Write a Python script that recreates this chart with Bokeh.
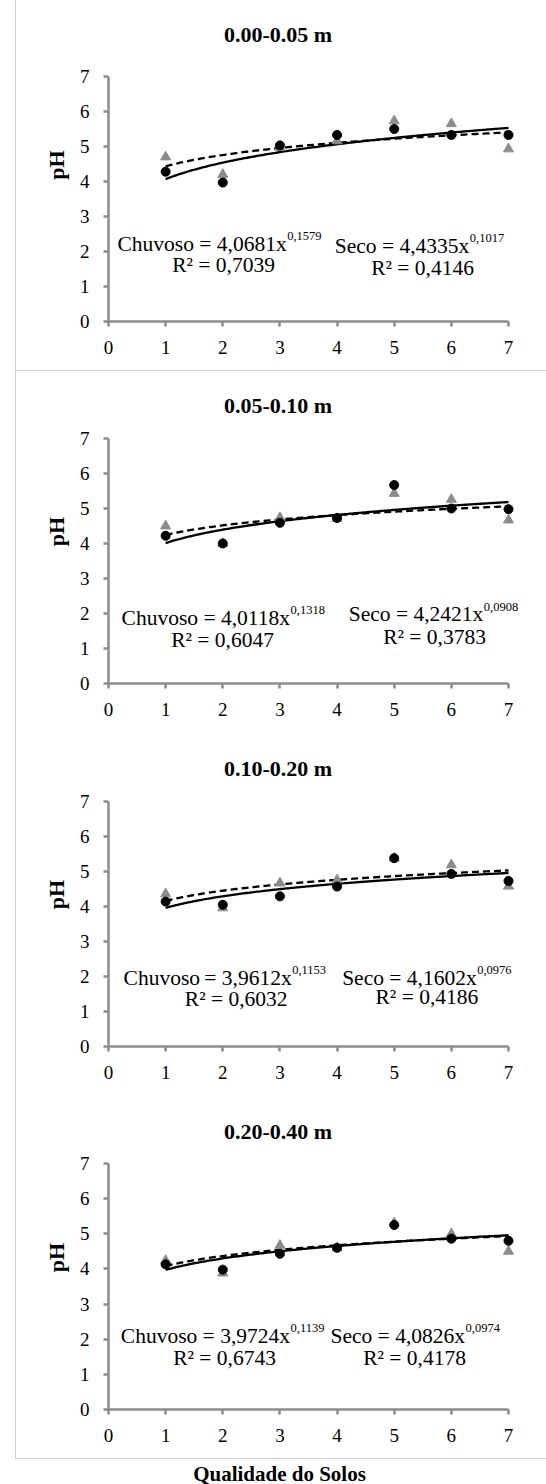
import numpy as np
from bokeh.plotting import figure
from bokeh.models import Label, Range1d, FixedTicker
from bokeh.layouts import column
from bokeh.embed import file_html
from bokeh.resources import INLINE

# ---------------- data ----------------
qualidade = [1, 2, 3, 4, 5, 6, 7]
x_ticks = [0, 1, 2, 3, 4, 5, 6, 7]
y_ticks = [0, 1, 2, 3, 4, 5, 6, 7]
titles = ["0.00-0.05 m", "0.05-0.10 m", "0.10-0.20 m", "0.20-0.40 m"]

chuvoso_0_05 = [4.28, 3.97, 5.03, 5.33, 5.50, 5.33, 5.33]
seco_0_05 = [4.70, 4.20, 4.97, 5.16, 5.73, 5.65, 4.93]
chuvoso_05_10 = [4.22, 4.00, 4.59, 4.73, 5.67, 5.00, 4.98]
seco_05_10 = [4.50, 4.00, 4.74, 4.71, 5.43, 5.26, 4.67]
chuvoso_10_20 = [4.14, 4.05, 4.29, 4.57, 5.38, 4.93, 4.73]
seco_10_20 = [4.36, 3.96, 4.67, 4.76, 5.38, 5.19, 4.58]
chuvoso_20_40 = [4.13, 3.98, 4.43, 4.60, 5.25, 4.86, 4.80]
seco_20_40 = [4.24, 3.88, 4.67, 4.60, 5.31, 5.00, 4.50]

# power trendline coefficients printed on the chart (y = a x^b)
chuvoso_a = [4.0681, 4.0118, 3.9612, 3.9724]
chuvoso_b = [0.1579, 0.1318, 0.1153, 0.1139]
seco_a = [4.4335, 4.2421, 4.1602, 4.0826]
seco_b = [0.1017, 0.0908, 0.0976, 0.0974]
chuvoso_r2 = ["0,7039", "0,6047", "0,6032", "0,6743"]
seco_r2 = ["0,4146", "0,3783", "0,4186", "0,4178"]

chuvoso_all = [chuvoso_0_05, chuvoso_05_10, chuvoso_10_20, chuvoso_20_40]
seco_all = [seco_0_05, seco_05_10, seco_10_20, seco_20_40]

# ---------------- layout (pixels) ----------------
FONT = "Liberation Serif"
W = 546
FL = 108          # frame left (x = 0)
X7 = 508          # pixel of x = 7
FR_EDGE = 518     # frame extended a little to the right so labels are not clipped
TOP_EDGE = 8      # frame extended upward to hold the panel title
heights = [371, 363, 363, 362]
axis_tops = [76, 67, 67, 66]     # pixel of y = 7 within each panel
axis_hs = [245, 245, 245, 246]   # pixels from y = 0 to y = 7
LC = "#d2d2d2"
GL = f"linear-gradient({LC},{LC})"

def box_bg(h, bottom_line):
    layers = [f"{GL} 15px 0px / 1px {h}px no-repeat"]
    if bottom_line is not None:
        layers.append(f"{GL} 15px {bottom_line}px / 531px 1px no-repeat")
    return {"background": ", ".join(layers)}

bottom_lines = [370, None, None, 361]
# positions (x from page left, y from panel top):
# chuvoso sup-start x, chuvoso baseline, sup baseline, r2 x, r2 baseline,
# seco sup-start x, seco baseline, sup baseline, r2 x, r2 baseline
text_pos = [
    (286.7, 243.0, 235.5, 171.7, 264.0, 469.3, 245.0, 237.5, 370.7, 267.0),
    (290.0, 246.0, 238.5, 170.7, 268.0, 483.3, 242.7, 235.5, 382.7, 265.0),
    (291.7, 243.0, 235.5, 184.3, 264.7, 476.7, 243.0, 235.5, 375.0, 262.0),
    (290.0, 238.3, 230.8, 172.7, 260.0, 465.0, 238.0, 230.5, 362.7, 260.0),
]
title_x, title_base = 277.5, 34.0
c_eq_sep = [" = ", " = ", "\u2009= ", " = "]
s_eq_sep = [" = ", " = ", " = ", " = "]
EQ_SIZE = "21.5px"
SUP_SIZE = "12.5px"

def fmt(v):
    return f"{v:.4f}".replace(".", ",")

def add_text(p, fbot, x, ytop, txt, size, bold=False, align="left"):
    # screen units are relative to the frame's bottom-left corner
    p.add_layout(Label(x=x - FL, y=fbot - ytop, x_units="screen", y_units="screen",
                       text=txt, text_font=FONT, text_font_size=size,
                       text_font_style="bold" if bold else "normal",
                       text_color="black", text_align=align,
                       text_baseline="alphabetic"))

AX = "#8c8c8c"
panels = []
for i in range(4):
    H = heights[i]
    fbot = axis_tops[i] + axis_hs[i]
    ppu_y = axis_hs[i] / 7.0
    ppu_x = (X7 - FL) / 7.0
    y_end = 7 + (axis_tops[i] - TOP_EDGE) / ppu_y
    x_end = 7 + (FR_EDGE - X7) / ppu_x
    p = figure(width=W, height=H, x_range=Range1d(0, x_end), y_range=Range1d(0, y_end),
               output_backend="svg", toolbar_location=None,
               min_border_left=FL, min_border_right=W - FR_EDGE,
               min_border_top=TOP_EDGE,
               min_border_bottom=H - fbot,
               styles=box_bg(H if bottom_lines[i] is None else bottom_lines[i] + 1,
                             bottom_lines[i]))
    p.border_fill_color = None
    p.outline_line_color = None
    p.grid.visible = False
    p.xaxis.bounds = (0, 7)
    p.yaxis.bounds = (0, 7)
    for ax in (p.xaxis[0], p.yaxis[0]):
        ax.axis_line_color = AX
        ax.axis_line_width = 2.5
        ax.major_tick_line_color = AX
        ax.major_tick_line_width = 2.5
        ax.major_tick_in = 0
        ax.major_tick_out = 5
        ax.minor_tick_line_color = None
        ax.major_label_text_font = FONT
        ax.major_label_text_font_size = "19px"
        ax.major_label_text_color = "black"
    p.xaxis.ticker = FixedTicker(ticks=x_ticks)
    p.yaxis.ticker = FixedTicker(ticks=y_ticks)
    p.xaxis.major_label_standoff = 14
    p.yaxis.major_label_standoff = 14
    p.yaxis.axis_label = "pH"
    p.yaxis.axis_label_text_font = FONT
    p.yaxis.axis_label_text_font_size = "22px"
    p.yaxis.axis_label_text_font_style = "bold"
    p.yaxis.axis_label_text_color = "black"
    p.yaxis.axis_label_standoff = 8

    xs = np.linspace(1, 7, 200)
    p.line(xs, seco_a[i] * xs ** seco_b[i], line_color="black", line_width=2.3,
           line_dash="7 4")
    p.line(xs, chuvoso_a[i] * xs ** chuvoso_b[i], line_color="black", line_width=2.3)
    p.scatter(qualidade, seco_all[i], marker="triangle", size=10,
              fill_color="#8c8c8c", line_color="#8c8c8c")
    p.scatter(qualidade, chuvoso_all[i], marker="circle", size=9,
              fill_color="black", line_color="black")

    add_text(p, fbot, title_x, title_base, titles[i], "22px", bold=True, align="center")
    t = text_pos[i]
    add_text(p, fbot, t[0] - 0.5, t[1], "Chuvoso" + c_eq_sep[i] + fmt(chuvoso_a[i]) + "x",
             EQ_SIZE, align="right")
    add_text(p, fbot, t[0], t[2], fmt(chuvoso_b[i]), SUP_SIZE)
    add_text(p, fbot, t[3], t[4], "R\u00b2 = " + chuvoso_r2[i], EQ_SIZE)
    add_text(p, fbot, t[5] - 0.5, t[6], "Seco" + s_eq_sep[i] + fmt(seco_a[i]) + "x",
             EQ_SIZE, align="right")
    add_text(p, fbot, t[5], t[7], fmt(seco_b[i]), SUP_SIZE)
    add_text(p, fbot, t[8], t[9], "R\u00b2 = " + seco_r2[i], EQ_SIZE)
    panels.append(p)

# x-axis title below the last chart box
LH = 25
lab = figure(width=W, height=LH, x_range=Range1d(0, 1), y_range=Range1d(0, 1),
             output_backend="svg", toolbar_location=None,
             min_border_left=FL, min_border_right=W - FR_EDGE, min_border_top=0,
             min_border_bottom=0)
lab.axis.visible = False
lab.grid.visible = False
lab.outline_line_color = None
lab.scatter([0.5], [0.5], size=0, alpha=0)
add_text(lab, LH, 279, 14, "Qualidade do Solos", "21px", bold=True, align="center")

layout = column(*panels, lab, spacing=0)
open("out.html", "w").write(file_html(layout, INLINE))
